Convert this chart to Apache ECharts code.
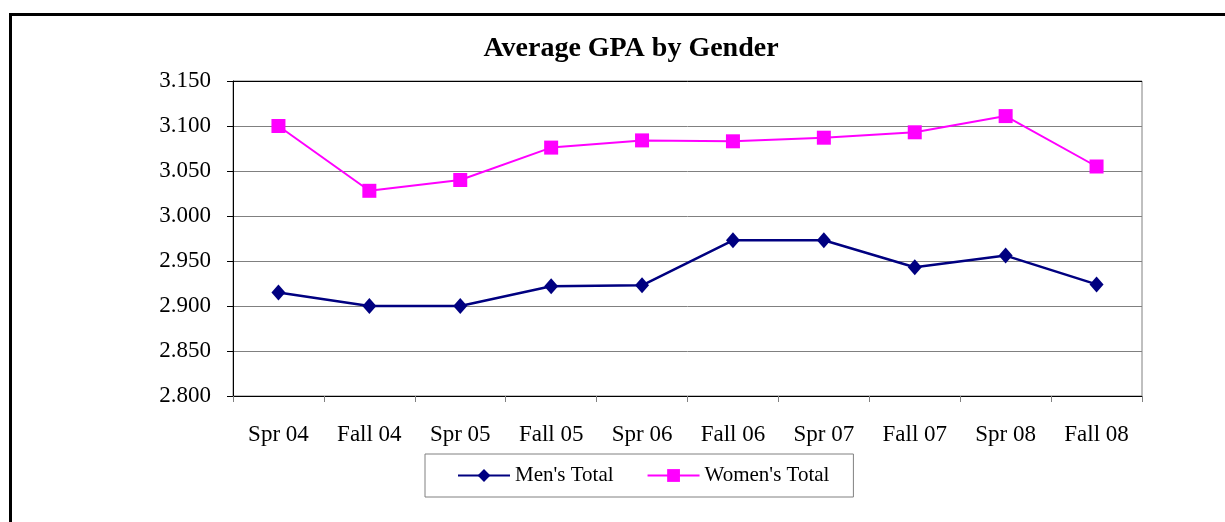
<!DOCTYPE html>
<html>
<head>
<meta charset="utf-8">
<script src="https://cdn.jsdelivr.net/npm/echarts@6/dist/echarts.min.js"></script>
<style>
html,body{margin:0;padding:0;background:#fff;}
#chart{width:1225px;height:522px;}
</style>
</head>
<body>
<div id="chart"></div>
<script>
const categories = ["Spr 04","Fall 04","Spr 05","Fall 05","Spr 06","Fall 06","Spr 07","Fall 07","Spr 08","Fall 08"];
const mensTotal = [2.915,2.900,2.900,2.922,2.923,2.973,2.973,2.943,2.956,2.924];
const womensTotal = [3.100,3.028,3.040,3.076,3.084,3.083,3.087,3.093,3.111,3.055];
const titleText = "Average GPA by Gender";
const seriesNames = ["Men's Total","Women's Total"];

const serif = '"Liberation Serif","Times New Roman",serif';
const chart = echarts.init(document.getElementById('chart'), null, {renderer:'canvas'});
chart.setOption({
  backgroundColor:'#fff',
  animation:false,
  graphic:[{
    type:'rect', silent:true, z:100,
    shape:{x:10.5,y:14.5,width:1260,height:600},
    style:{fill:'none',stroke:'#000',lineWidth:3}
  }],
  title:{
    text:titleText,
    left:626, top:30, textAlign:'center',
    textStyle:{fontFamily:serif,fontWeight:'bold',fontSize:28,color:'#000'}
  },
  grid:{left:233,right:83,top:81,bottom:126,show:true,borderColor:'#808080',borderWidth:1,containLabel:false},
  legend:{
    data:seriesNames,
    left:425, top:454,
    orient:'horizontal',
    itemWidth:52, itemHeight:16, itemGap:33,
    padding:[11,24,11,32],
    borderColor:'#808080', borderWidth:1,
    textStyle:{fontFamily:serif,fontSize:21,color:'#000'}
  },
  xAxis:{
    type:'category',
    data:categories,
    boundaryGap:true,
    axisLine:{lineStyle:{color:'#000',width:1}},
    axisTick:{show:true,length:6,lineStyle:{color:'#808080'}},
    axisLabel:{fontFamily:serif,fontSize:23,color:'#000',margin:27}
  },
  yAxis:{
    type:'value',
    min:2.8, max:3.15, interval:0.05,
    axisLine:{show:true,lineStyle:{color:'#000',width:1}},
    axisTick:{show:true,length:6,lineStyle:{color:'#000'}},
    axisLabel:{fontFamily:serif,fontSize:23,color:'#000',margin:22,formatter:v=>v.toFixed(3)},
    splitLine:{show:true,lineStyle:{color:['#808080','#808080','#808080','#808080','#808080','#808080','#808080','#000'],width:1}}
  },
  series:[
    {
      name:seriesNames[0], type:'line', data:mensTotal,
      symbol:'diamond', symbolSize:[14,16],
      lineStyle:{color:'#000080',width:2.5},
      itemStyle:{color:'#000080'}
    },
    {
      name:seriesNames[1], type:'line', data:womensTotal,
      symbol:'rect', symbolSize:14,
      lineStyle:{color:'#FF00FF',width:2},
      itemStyle:{color:'#FF00FF'}
    }
  ]
});
</script>
</body>
</html>
